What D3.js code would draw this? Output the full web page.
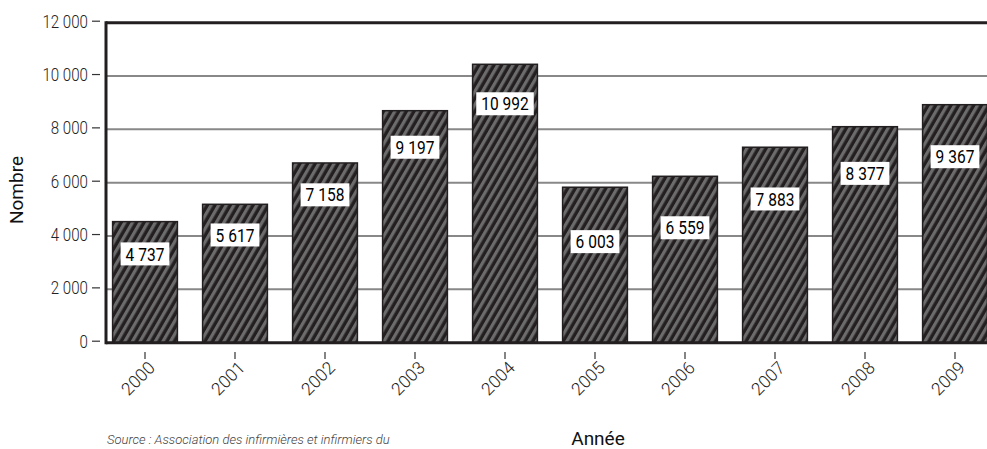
<!DOCTYPE html>
<html lang="fr">
<head>
<meta charset="UTF-8">
<title>Nombre par année</title>
<script src="https://d3js.org/d3.v7.min.js"></script>
<style>
body { margin: 0; background: #fff; }
svg { display: block; }
.ytick text { font-family: Roboto, "Liberation Sans", sans-serif; font-weight: 300; font-size: 18px; fill: #222; }
.xtick text { font-family: Roboto, "Liberation Sans", sans-serif; font-weight: 300; font-size: 17.5px; fill: #222; }
.barlabel text { font-family: Roboto, "Liberation Sans", sans-serif; font-weight: 400; font-size: 18.5px; fill: #000; }
.title { font-family: Roboto, "Liberation Sans", sans-serif; font-size: 19px; fill: #111; }
.source { font-family: Roboto, "Liberation Sans", sans-serif; font-style: italic; font-weight: 300; font-size: 13px; fill: #444; }
</style>
</head>
<body>
<svg id="chart" width="987" height="449"></svg>
<script>
// data
const years = ["2000", "2001", "2002", "2003", "2004", "2005", "2006", "2007", "2008", "2009"]
const barValues = [4540, 5190, 6740, 8700, 10440, 5830, 6240, 7330, 8100, 8925]
const labelValues = [4737, 5617, 7158, 9197, 10992, 6003, 6559, 7883, 8377, 9367]
const labelLevels = [3330, 4040, 5545, 7330, 8960, 3790, 4310, 5390, 6350, 6975]
const yTicks = [0, 2000, 4000, 6000, 8000, 10000, 12000]

const svg = d3.select("#chart")
const fr = d3.formatLocale({decimal: ",", thousands: " ", grouping: [3], currency: ["", ""]})
const fmt = fr.format(",d")
const narrow = 0.84

const x = d3.scaleBand().domain(years).range([100, 1000]).paddingInner(0.28).paddingOuter(0.14)
const y = d3.scaleLinear().domain([0, 12000]).range([342.7, 22.7])
const axisX = 106

// stripes
const defs = svg.append("defs")
const pat = defs.append("pattern")
    .attr("id", "hatch")
    .attr("patternUnits", "userSpaceOnUse")
    .attr("width", 6.6).attr("height", 10)
    .attr("patternTransform", "rotate(30)")
pat.append("rect").attr("width", 6.6).attr("height", 10).attr("fill", "#231f20")
pat.append("rect").attr("width", 3.2).attr("height", 10).attr("fill", "#6d6c6c")

// grid
svg.append("g").selectAll("line")
    .data(yTicks.filter(d => d > 0 && d < 12000))
    .join("line")
    .attr("x1", axisX).attr("x2", 987)
    .attr("y1", d => y(d)).attr("y2", d => y(d))
    .attr("stroke", "#888").attr("stroke-width", 2)

// y ticks
const yt = svg.append("g").selectAll("g.ytick")
    .data(yTicks).join("g").classed("ytick", true)
    .attr("transform", d => `translate(0,${y(d) - 1.5})`)
yt.append("line").attr("x1", 92).attr("x2", 100).attr("stroke", "#333").attr("stroke-width", 1.2)
yt.append("text")
    .attr("transform", `translate(88,0) scale(${narrow},1)`)
    .attr("dy", "0.36em").attr("text-anchor", "end").text(d => fmt(d))

// bars
svg.append("g").selectAll("rect")
    .data(years)
    .join("rect")
    .attr("x", d => x(d))
    .attr("width", x.bandwidth())
    .attr("y", (d, i) => y(barValues[i]))
    .attr("height", (d, i) => y(0) - y(barValues[i]))
    .attr("fill", "url(#hatch)")
    .attr("stroke", "#231f20").attr("stroke-width", 1.5)

// frame
svg.append("line").attr("x1", axisX).attr("x2", 987).attr("y1", y(12000)).attr("y2", y(12000))
    .attr("stroke", "#231f20").attr("stroke-width", 3)
svg.append("line").attr("x1", axisX).attr("x2", 987).attr("y1", y(0)).attr("y2", y(0))
    .attr("stroke", "#231f20").attr("stroke-width", 3)
svg.append("line").attr("x1", axisX).attr("x2", axisX).attr("y1", y(12000) - 1.5).attr("y2", y(0) + 1.5)
    .attr("stroke", "#231f20").attr("stroke-width", 3)

// bar value labels
const bl = svg.append("g").selectAll("g.barlabel")
    .data(years).join("g").classed("barlabel", true)
    .attr("transform", (d, i) => `translate(${x(d) + x.bandwidth() / 2},${y(labelLevels[i])})`)
bl.append("text")
    .attr("transform", `scale(${narrow},1)`)
    .attr("text-anchor", "middle").attr("dy", "0.36em").text((d, i) => fmt(labelValues[i]))
bl.each(function() {
    const g = d3.select(this)
    const w = g.select("text").node().getBBox().width * narrow
    g.insert("rect", "text")
        .attr("x", -w / 2 - 5).attr("width", w + 10)
        .attr("y", -11.5).attr("height", 23)
        .attr("fill", "#fff")
})

// x ticks
const xt = svg.append("g").selectAll("g.xtick")
    .data(years).join("g").classed("xtick", true)
    .attr("transform", d => `translate(${x(d) + x.bandwidth() / 2},0)`)
xt.append("line").attr("y1", 352).attr("y2", 359).attr("stroke", "#333").attr("stroke-width", 1.2)
xt.append("text")
    .attr("transform", "translate(11,369) rotate(-45)")
    .attr("text-anchor", "end")
    .text(d => d)

// titles
svg.append("text").attr("class", "title")
    .attr("transform", `translate(23,${190}) rotate(-90)`)
    .attr("text-anchor", "middle").text("Nombre")
svg.append("text").attr("class", "title")
    .attr("x", 598).attr("y", 445).attr("text-anchor", "middle").text("Année")
svg.append("text").attr("class", "source")
    .attr("x", 107).attr("y", 444)
    .text("Source : Association des infirmières et infirmiers du")
</script>
</body>
</html>
